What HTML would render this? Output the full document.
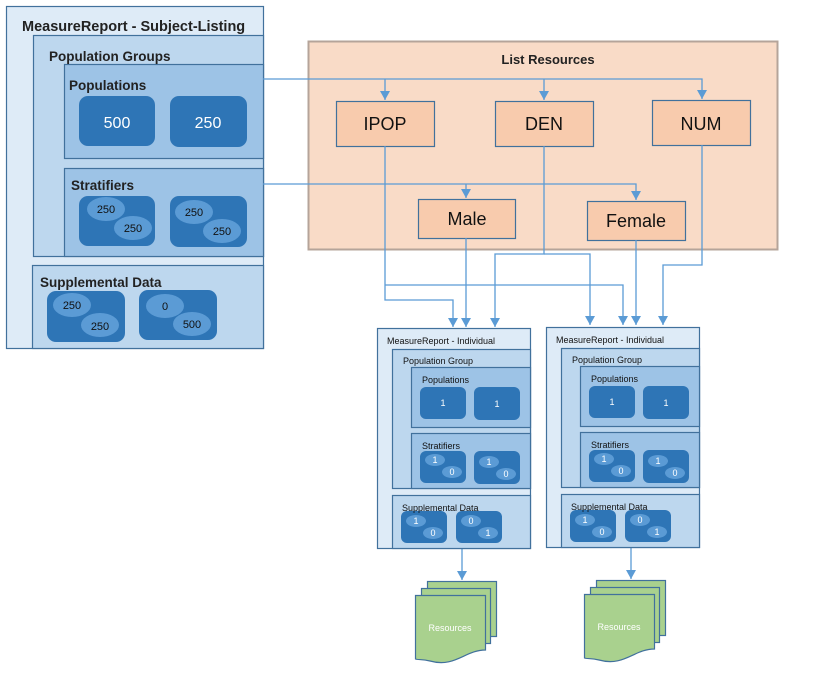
<!DOCTYPE html>
<html><head><meta charset="utf-8"><style>
body{margin:0;background:#fff}
svg{display:block;font-family:"Liberation Sans","DejaVu Sans",sans-serif}
</style></head><body>
<svg width="826" height="683" viewBox="0 0 826 683" xmlns="http://www.w3.org/2000/svg">
<defs>
<marker id="a" markerWidth="10" markerHeight="10" refX="9" refY="5" orient="auto" markerUnits="userSpaceOnUse" viewBox="0 0 10 10">
<path d="M0,0 L9,5 L0,10 Z" fill="#5b9bd5"/></marker>
</defs>
<g stroke="#41719c" stroke-width="1.2">
<rect x="6.5" y="6.5" width="257" height="342" fill="#deebf7"/>
<rect x="33.5" y="35.5" width="230" height="221" fill="#bdd7ee"/>
<rect x="64.5" y="64.5" width="199" height="94" fill="#9dc3e6"/>
<rect x="64.5" y="168.5" width="199" height="88" fill="#9dc3e6"/>
<rect x="32.5" y="265.5" width="231" height="83" fill="#bdd7ee"/>
</g>
<g fill="#2e75b6">
<rect x="79" y="96" width="76" height="50" rx="9"/>
<rect x="170" y="96" width="77" height="51" rx="9"/>
<rect x="79" y="196" width="76" height="50" rx="9"/>
<rect x="170" y="196" width="77" height="51" rx="9"/>
<rect x="47" y="291" width="78" height="51" rx="9"/>
<rect x="139" y="290" width="78" height="50" rx="9"/>
</g>
<g fill="#5b9bd5">
<ellipse cx="106" cy="209" rx="19" ry="12"/><ellipse cx="133" cy="228" rx="19" ry="12"/>
<ellipse cx="194" cy="212" rx="19" ry="12"/><ellipse cx="222" cy="231" rx="19" ry="12"/>
<ellipse cx="72" cy="305" rx="19" ry="12"/><ellipse cx="100" cy="325" rx="19" ry="12"/>
<ellipse cx="165" cy="306" rx="19" ry="12"/><ellipse cx="192" cy="324" rx="19" ry="12"/>
</g>
<g font-weight="bold" fill="#222">
<text x="22" y="31" font-size="14.5">MeasureReport - Subject-Listing</text>
<text x="49" y="61" font-size="13.5">Population Groups</text>
<text x="69" y="90" font-size="13.5">Populations</text>
<text x="71" y="190" font-size="13.5">Stratifiers</text>
<text x="40" y="287" font-size="13.5">Supplemental Data</text>
</g>
<g fill="#fff" font-size="16" text-anchor="middle">
<text x="117" y="128">500</text><text x="208" y="128">250</text>
</g>
<g fill="#111" font-size="11" text-anchor="middle">
<text x="106" y="213">250</text><text x="133" y="232">250</text>
<text x="194" y="216">250</text><text x="222" y="235">250</text>
<text x="72" y="309">250</text><text x="100" y="330">250</text>
<text x="165" y="310">0</text><text x="192" y="328">500</text>
</g>
<rect x="308.5" y="41.5" width="469" height="208" fill="#f9dbc7" stroke="#b5a49a" stroke-width="2"/>
<text x="548" y="64" font-size="13" font-weight="bold" text-anchor="middle" fill="#222">List Resources</text>
<g stroke="#41719c" stroke-width="1.2" fill="#f8cbad">
<rect x="336.5" y="101.5" width="98" height="45"/>
<rect x="495.5" y="101.5" width="98" height="45"/>
<rect x="652.5" y="100.5" width="98" height="45"/>
<rect x="418.5" y="199.5" width="97" height="39"/>
<rect x="587.5" y="201.5" width="98" height="39"/>
</g>
<g font-size="18" text-anchor="middle" fill="#111">
<text x="385" y="130">IPOP</text><text x="544" y="130">DEN</text><text x="701" y="130">NUM</text>
<text x="467" y="225">Male</text><text x="636" y="227">Female</text>
</g>
<g stroke="#5b9bd5" stroke-width="1.3" fill="none">
<path d="M263,79 H702 V99" marker-end="url(#a)"/>
<path d="M385,79 V100" marker-end="url(#a)"/>
<path d="M544,79 V100" marker-end="url(#a)"/>
<path d="M263,184 H636 V200" marker-end="url(#a)"/>
<path d="M466,184 V198" marker-end="url(#a)"/>
<path d="M385,146 V300 H453 V327" marker-end="url(#a)"/>
<path d="M385,285 H623 V325" marker-end="url(#a)"/>
<path d="M466,238 V327" marker-end="url(#a)"/>
<path d="M544,146 V254 H495 V327" marker-end="url(#a)"/>
<path d="M544,254 H590 V325" marker-end="url(#a)"/>
<path d="M636,240 V325" marker-end="url(#a)"/>
<path d="M702,145 V265 H663 V325" marker-end="url(#a)"/>
<path d="M462,548 V580" marker-end="url(#a)"/>
<path d="M631,547 V579" marker-end="url(#a)"/>
</g>
<g id="ind">
<g stroke="#41719c" stroke-width="1.2">
<rect x="377.5" y="328.5" width="153" height="220" fill="#deebf7"/>
<rect x="392.5" y="349.5" width="138" height="139" fill="#bdd7ee"/>
<rect x="411.5" y="367.5" width="119" height="60" fill="#9dc3e6"/>
<rect x="411.5" y="433.5" width="119" height="55" fill="#9dc3e6"/>
<rect x="392.5" y="495.5" width="138" height="53" fill="#bdd7ee"/>
</g>
<g fill="#2e75b6">
<rect x="420" y="387" width="46" height="32" rx="6"/><rect x="474" y="387" width="46" height="33" rx="6"/>
<rect x="420" y="451" width="46" height="32" rx="6"/><rect x="474" y="451" width="46" height="33" rx="6"/>
<rect x="401" y="511" width="46" height="32" rx="6"/><rect x="456" y="511" width="46" height="32" rx="6"/>
</g>
<g fill="#5b9bd5">
<ellipse cx="435" cy="460" rx="10" ry="6"/><ellipse cx="452" cy="472" rx="10" ry="6"/>
<ellipse cx="489" cy="462" rx="10" ry="6"/><ellipse cx="506" cy="474" rx="10" ry="6"/>
<ellipse cx="416" cy="521" rx="10" ry="6"/><ellipse cx="433" cy="533" rx="10" ry="6"/>
<ellipse cx="471" cy="521" rx="10" ry="6"/><ellipse cx="488" cy="533" rx="10" ry="6"/>
</g>
<g font-size="9" fill="#111">
<text x="387" y="344">MeasureReport - Individual</text>
<text x="403" y="364">Population Group</text>
<text x="422" y="383">Populations</text>
<text x="422" y="449">Stratifiers</text>
<text x="402" y="511">Supplemental Data</text>
</g>
<g font-size="9" fill="#fff" text-anchor="middle">
<text x="443" y="406">1</text><text x="497" y="407">1</text>
<text x="435" y="463">1</text><text x="452" y="475">0</text>
<text x="489" y="465">1</text><text x="506" y="477">0</text>
<text x="416" y="524">1</text><text x="433" y="536">0</text>
<text x="471" y="524">0</text><text x="488" y="536">1</text>
</g>
<g stroke="#41719c" stroke-width="1.2" fill="#a9d18e">
<rect x="427.5" y="581.5" width="69" height="55"/>
<rect x="421.5" y="588.5" width="69" height="55"/>
<path d="M415.5,595.5 H485.5 V650 C465,650 455,668 430,661 C422,659 418,660 415.5,659 Z"/>
</g>
<text x="450" y="631" font-size="9" fill="#fff" text-anchor="middle">Resources</text>
</g>
<use href="#ind" transform="translate(169,-1)"/>
</svg>
</body></html>
